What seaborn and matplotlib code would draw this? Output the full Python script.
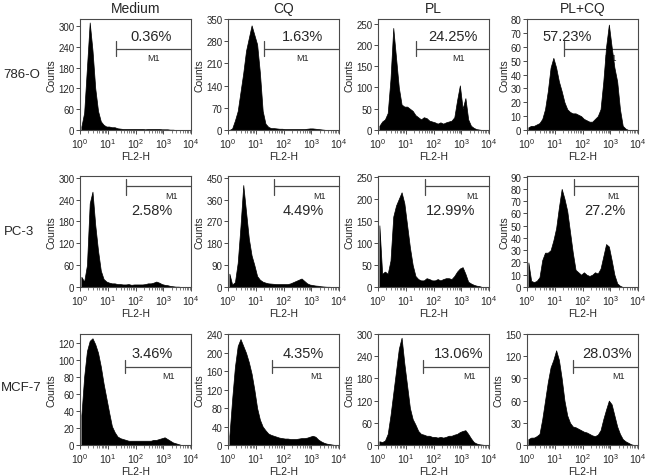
import numpy as np
import pandas as pd
import matplotlib
matplotlib.use("Agg")
import matplotlib.pyplot as plt
import seaborn as sns
from matplotlib.ticker import FixedLocator, NullFormatter

sns.set_theme(style="ticks")
plt.rcParams["font.family"] = ["Liberation Sans", "DejaVu Sans"]
plt.rcParams["mathtext.fontset"] = "custom"
plt.rcParams["mathtext.rm"] = "Liberation Sans"
plt.rcParams["mathtext.it"] = "Liberation Sans:italic"

# ---------------- data ----------------
cell_lines = ["786-O", "PC-3", "MCF-7"]
treatments = ["Medium", "CQ", "PL", "PL+CQ"]
x_tick_labels = ["$10^{0}$", "$10^{1}$", "$10^{2}$", "$10^{3}$", "$10^{4}$"]

# counts per 0.1-decade channel group, log10(FL2-H) from 0 to 4
o786_medium = [10, 50, 180, 310, 230, 120, 55, 25, 15, 10, 10, 8, 8, 5, 4, 3, 3, 3, 3, 3,
               3, 3, 3, 2, 3, 3, 3, 3, 3, 2, 2, 2, 1, 1, 0, 0, 0, 0, 0, 0]
o786_cq = [0, 5, 30, 60, 120, 180, 250, 290, 330, 300, 270, 180, 60, 20, 10, 6, 6, 5, 4, 4,
           3, 3, 3, 3, 3, 3, 3, 3, 4, 5, 5, 4, 3, 2, 1, 0, 0, 0, 0, 0]
o786_pl = [10, 20, 25, 40, 120, 240, 170, 100, 60, 55, 55, 50, 45, 35, 30, 25, 30, 28, 22, 20,
           18, 15, 18, 15, 18, 20, 22, 30, 70, 105, 50, 75, 25, 10, 5, 2, 1, 0, 0, 0]
o786_plcq = [2, 3, 3, 4, 5, 8, 15, 28, 45, 52, 45, 35, 28, 20, 15, 13, 12, 12, 11, 10,
             8, 7, 6, 6, 8, 10, 15, 35, 60, 76, 60, 45, 35, 15, 3, 1, 0, 0, 0, 0]
pc3_medium = [28, 15, 60, 230, 262, 170, 100, 45, 22, 15, 12, 10, 10, 8, 8, 7, 7, 8, 6, 7,
              7, 7, 7, 8, 10, 10, 12, 15, 12, 8, 6, 5, 3, 2, 1, 1, 0, 0, 0, 0]
pc3_cq = [55, 10, 20, 100, 250, 420, 310, 200, 130, 90, 45, 30, 22, 18, 15, 14, 13, 12, 12, 12,
          12, 12, 15, 20, 25, 30, 35, 25, 15, 10, 8, 6, 5, 3, 2, 1, 1, 0, 0, 0]
pc3_pl = [140, 30, 35, 30, 60, 160, 185, 200, 215, 190, 140, 90, 50, 25, 18, 15, 15, 20, 18, 15,
          15, 18, 15, 18, 20, 20, 18, 25, 35, 42, 45, 30, 12, 8, 5, 3, 2, 0, 0, 0]
pc3_plcq = [20, 5, 4, 5, 8, 22, 28, 28, 30, 38, 48, 65, 80, 72, 62, 45, 28, 14, 12, 10,
            12, 10, 9, 10, 12, 11, 15, 25, 35, 33, 22, 10, 3, 1, 0, 0, 0, 0, 0, 0]
mcf7_medium = [35, 80, 110, 122, 125, 118, 108, 92, 72, 55, 38, 22, 15, 10, 8, 7, 6, 5, 5, 5,
               5, 5, 5, 5, 5, 5, 6, 6, 7, 8, 9, 7, 5, 3, 2, 1, 0, 0, 0, 0]
mcf7_cq = [20, 100, 170, 215, 230, 215, 200, 180, 155, 120, 80, 55, 40, 32, 25, 22, 20, 18, 16, 15,
           14, 14, 13, 13, 13, 14, 15, 15, 16, 18, 20, 18, 12, 8, 5, 3, 2, 1, 0, 0]
mcf7_pl = [10, 8, 12, 30, 80, 140, 200, 260, 290, 220, 160, 100, 70, 55, 38, 30, 28, 25, 25, 22,
           22, 20, 22, 20, 22, 25, 25, 28, 30, 35, 38, 40, 30, 18, 8, 4, 2, 1, 0, 0]
mcf7_plcq = [8, 10, 10, 12, 15, 35, 60, 85, 105, 115, 128, 115, 90, 60, 40, 30, 25, 24, 22, 20,
             18, 17, 15, 13, 12, 14, 20, 35, 48, 60, 55, 40, 25, 15, 8, 5, 3, 1, 0, 0]

histograms = [[o786_medium, o786_cq, o786_pl, o786_plcq],
              [pc3_medium, pc3_cq, pc3_pl, pc3_plcq],
              [mcf7_medium, mcf7_cq, mcf7_pl, mcf7_plcq]]

percent_labels = [["0.36%", "1.63%", "24.25%", "57.23%"],
                  ["2.58%", "4.49%", "12.99%", "27.2%"],
                  ["3.46%", "4.35%", "13.06%", "28.03%"]]
gate_start = [[1.30, 1.30, 1.37, 1.33],
              [1.67, 1.65, 1.68, 1.68],
              [1.62, 1.60, 1.63, 1.64]]
y_max = [[320, 350, 261, 80], [305, 457, 252, 90.5], [130, 241, 300, 150]]
y_step = [[60, 70, 50, 10], [60, 90, 50, 10], [20, 40, 60, 30]]
y_top_tick = [[300, 350, 250, 80], [300, 450, 250, 90], [120, 240, 300, 150]]

# ---------------- layout ----------------
W, H = 646, 477
col_left_px = [80, 228, 378, 527]
row_top_px = [20, 177, 335]
ax_w_px, ax_h_px = 111, 111
# annotation layout per row (axes fraction)
bar_y = [0.73, 0.91, 0.70]
tick_lo = [0.67, 0.83, 0.65]
tick_hi = [0.80, 0.97, 0.77]
pct_y = [0.85, 0.69, 0.83]
m1_y = [0.655, 0.82, 0.625]
pct_x = [[2.55, 2.7, 2.7, 1.45], [2.6, 2.7, 2.6, 2.8], [2.6, 2.7, 2.9, 2.9]]
m1_x = [[2.65, 2.7, 2.9, 3.0], [3.3, 3.3, 3.4, 3.1], [3.2, 3.2, 3.3, 3.3]]
row_label_pos = [(22, 75), (19, 232), (21, 388)]

edges = [i / 10.0 for i in range(41)]
centers = [e + 0.05 for e in edges[:-1]]
minor = [d + np.log10(k) for d in range(4) for k in range(2, 10)]
spine_col = "#4a4a4a"

fig = plt.figure(figsize=(W / 100, H / 100), dpi=100)

for r in range(3):
    for c in range(4):
        l = col_left_px[c] / W
        b = 1 - (row_top_px[r] + ax_h_px) / H
        ax = fig.add_axes([l, b, ax_w_px / W, ax_h_px / H])
        df = pd.DataFrame({"logfl": centers, "n": histograms[r][c]})
        sns.histplot(data=df, x="logfl", weights="n", bins=edges, element="poly",
                     fill=True, color="black", alpha=1, linewidth=0.5, ax=ax)
        ax.set_xlim(0, 4)
        ax.set_ylim(0, y_max[r][c])
        ax.set_xticks(range(5))
        ax.set_xticklabels(x_tick_labels, fontsize=7.5)
        ax.xaxis.set_minor_locator(FixedLocator(minor))
        ax.xaxis.set_minor_formatter(NullFormatter())
        ax.set_yticks(np.arange(0, y_top_tick[r][c] + 0.1, y_step[r][c]))
        ax.tick_params(axis="y", labelsize=7, length=3, width=0.7, pad=1, color=spine_col)
        ax.tick_params(axis="x", which="major", length=3, width=0.7, pad=1.5, color=spine_col)
        ax.tick_params(axis="x", which="minor", length=1.8, width=0.5, color=spine_col)
        for s in ax.spines.values():
            s.set_visible(True)
            s.set_color(spine_col)
            s.set_linewidth(0.8)
        ax.set_ylabel("Counts", fontsize=7.5, labelpad=1)
        ax.set_xlabel("FL2-H", fontsize=7.5, labelpad=1)
        if r == 0:
            ax.set_title(treatments[c], fontsize=10, pad=5)
        # M1 gate
        trans = ax.get_xaxis_transform()
        g = gate_start[r][c]
        ax.plot([g, 4], [bar_y[r], bar_y[r]], color=spine_col, lw=0.9, transform=trans,
                clip_on=False, zorder=0.5)
        ax.plot([g, g], [tick_lo[r], tick_hi[r]], color=spine_col, lw=0.9, transform=trans,
                clip_on=False, zorder=0.5)
        ax.text(m1_x[r][c], m1_y[r], "M1", fontsize=6.5, ha="center", va="center",
                transform=trans, zorder=0.5)
        ax.text(pct_x[r][c], pct_y[r], percent_labels[r][c], fontsize=10.5, ha="center",
                va="center", transform=trans, zorder=4)

for r, (px, py) in enumerate(row_label_pos):
    fig.text(px / W, 1 - py / H, cell_lines[r], fontsize=9.5, ha="center", va="center")

fig.savefig("out.png", dpi=100)
